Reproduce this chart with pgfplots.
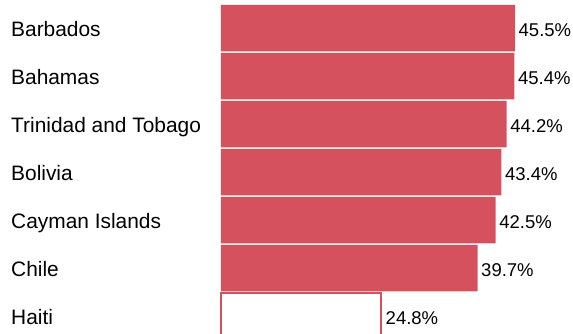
\documentclass[border=0pt]{standalone}
\usepackage{pgfplots}
\pgfplotsset{compat=1.18}
\usepackage{fontspec}
\setmainfont{Liberation Sans}
\definecolor{barred}{RGB}{214,81,94}
\begin{document}
\begin{tikzpicture}
\path[use as bounding box, clip] (0,0) rectangle (573pt,333pt);
\begin{axis}[
  at={(221pt,329pt)}, anchor=north west,
  scale only axis, width=323.08pt, height=336pt,
  xmin=0, xmax=50, ymin=-0.5, ymax=6.5, y dir=reverse,
  axis line style={draw=none},
  major tick length=0pt,
  xtick=\empty,
  ytick={0,1,2,3,4,5,6},
  yticklabels={Barbados,Bahamas,Trinidad and Tobago,Bolivia,Cayman Islands,Chile,Haiti},
  yticklabel style={font=\fontsize{20.9}{24}\selectfont, anchor=base west, xshift=-210pt, yshift=-8.5pt, inner sep=0pt},
  xbar, bar width=46.5pt, bar shift=0pt,
  nodes near coords={\pgfmathprintnumber[fixed,precision=1,fixed zerofill,assume math mode=true]{\pgfplotspointmeta}\%},
  point meta=explicit,
  every node near coord/.append style={font=\fontsize{18.5}{22}\selectfont, anchor=base west, xshift=3.5pt, yshift=-8.5pt, inner sep=0pt, text=black},
  clip=false,
]
\addplot[fill=barred, draw=none] coordinates {
  (45.5,0) [45.5]
  (45.4,1) [45.4]
  (44.2,2) [44.2]
  (43.4,3) [43.4]
  (42.5,4) [42.5]
  (39.7,5) [39.7]
};
\addplot[fill=white, draw=barred, line width=2pt] coordinates {
  (24.8,6) [24.8]
};
\end{axis}
\end{tikzpicture}
\end{document}
